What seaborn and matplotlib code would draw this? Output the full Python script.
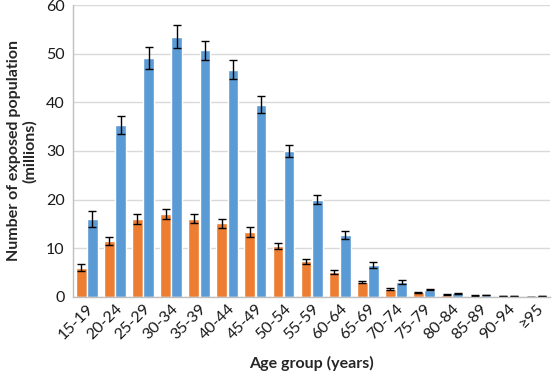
import matplotlib
matplotlib.use("Agg")
import matplotlib.pyplot as plt
import seaborn as sns
import pandas as pd

sns.set_theme(style="white")
plt.rcParams['font.family'] = ['Lato', 'DejaVu Sans']

# data
age_groups = ['15-19', '20-24', '25-29', '30-34', '35-39', '40-44', '45-49', '50-54',
              '55-59', '60-64', '65-69', '70-74', '75-79', '80-84', '85-89', '90-94', '≥95']
orange_vals = [6.0, 11.5, 16.0, 17.1, 16.1, 15.1, 13.4, 10.5, 7.3, 5.1, 3.0, 1.7, 0.9, 0.4, 0.25, 0.1, 0.05]
orange_err = [0.7, 0.9, 1.1, 1.0, 0.9, 1.0, 1.0, 0.6, 0.5, 0.4, 0.25, 0.2, 0.1, 0.08, 0.05, 0.02, 0.01]
blue_vals = [16.0, 35.3, 49.1, 53.5, 50.7, 46.7, 39.5, 30.0, 20.0, 12.7, 6.5, 3.0, 1.5, 0.75, 0.4, 0.15, 0.08]
blue_err = [1.6, 1.8, 2.2, 2.3, 2.0, 1.9, 1.8, 1.2, 1.0, 0.8, 0.6, 0.4, 0.2, 0.1, 0.06, 0.03, 0.01]
series = ['A', 'B']
colors = ['#ED7D31', '#5B9BD5']

df = pd.DataFrame({
    'age': age_groups * 2,
    'value': orange_vals + blue_vals,
    'series': [series[0]] * len(age_groups) + [series[1]] * len(age_groups),
})

fig, ax = plt.subplots(figsize=(5.6, 3.88), dpi=100)
fig.subplots_adjust(left=0.13, right=0.983, top=0.987, bottom=0.235)

sns.barplot(data=df, x='age', y='value', hue='series', order=age_groups,
            palette=colors, saturation=1, width=0.8, gap=0.05, errorbar=None,
            ax=ax, legend=False)

# error bars on each bar
for cont, errs in zip(ax.containers, [orange_err, blue_err]):
    xs = [p.get_x() + p.get_width() / 2 for p in cont.patches]
    ys = [p.get_height() for p in cont.patches]
    ax.errorbar(xs, ys, yerr=errs, fmt='none', ecolor='black', elinewidth=1,
                capsize=3, capthick=1)

ax.set_xlim(-0.5, len(age_groups) - 0.5)
ax.set_ylim(0, 60)
ax.set_yticks(range(0, 61, 10))
ax.yaxis.grid(True, color='#D9D9D9', linewidth=1)
ax.set_axisbelow(True)
for s in ['top', 'right']:
    ax.spines[s].set_visible(False)
for s in ['left', 'bottom']:
    ax.spines[s].set_color('#BFBFBF')
    ax.spines[s].set_linewidth(1)

ax.tick_params(axis='both', labelsize=11.5, colors='#1a1a1a', length=0)
ax.tick_params(axis='y', pad=6)
plt.setp(ax.get_xticklabels(), rotation=45, ha='right', rotation_mode='anchor')

ax.set_xlabel('Age group (years)', fontsize=11.5, fontweight='bold', labelpad=10)
ax.set_ylabel('Number of exposed population\n(millions)', fontsize=11.5, fontweight='bold',
              labelpad=6)

fig.savefig('out.png', dpi=100)
